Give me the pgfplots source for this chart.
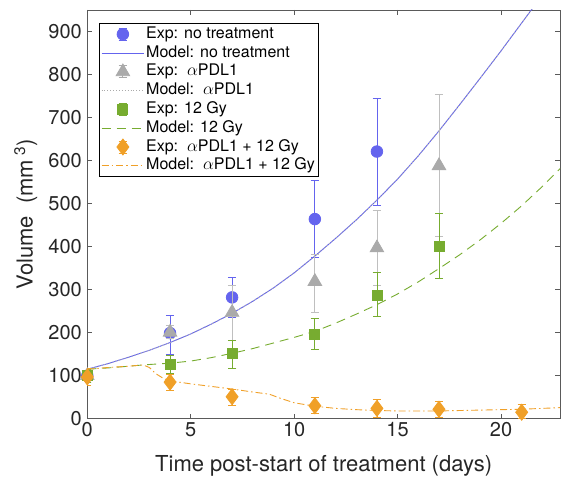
\documentclass[border=0pt]{standalone}
\usepackage{fontspec}
\setmainfont{TeX Gyre Heros}
\usepackage{pgfplots}
\pgfplotsset{compat=1.18}
\usepackage{pgfplotstable}
\definecolor{cblue}{RGB}{100,100,238}
\definecolor{cgray}{RGB}{170,170,170}
\definecolor{cgreen}{RGB}{119,172,48}
\definecolor{corange}{RGB}{240,160,40}
\definecolor{caxis}{RGB}{90,90,90}

\pgfplotstableread{
x y ep em
0 100 15 15
4 199 42 49
7 282 46 46
11 464 89 90
14 621 124 126
}\expblue
\pgfplotstableread{
x y ep em
0 100 15 15
4 201 15 15
7 247 62 64
11 319 64 71
14 397 88 88
17 588 165 165
}\expgray
\pgfplotstableread{
x y ep em
0 100 15 15
4 127 21 22
7 151 30 35
11 195 37 35
14 287 54 50
17 401 77 76
}\expgreen
\pgfplotstableread{
x y ep em
0 97 20 20
4 85 17 20
7 51 18 21
11 30 20 18
14 24 20 20
17 22 19 20
21 15 19 15
}\exporange
\pgfplotstableread{
x y
0 115
1 128
2 143
3 159
4 177
5 197
6 220
7 245
8 273
9 304
10 339
11 378
12 419
13 462
14 508
15 557
16 611
17 669
18 730
19 792
20 855
21 920
22 985
23 1050
}\modblue
\pgfplotstableread{
x y
0 115
1 118
2 122
2.7 125
3 126
4 129
5 134
6 142
7 152
8 163
9 176
10 189
11 203
12 222
13 243
14 265
15 290
16 318
17 349
18 381
19 416
20 454
21 495
22 540
23 588
}\modgreen
\pgfplotstableread{
x y
0 115
1 119
2 122
2.7 125
3.0 119
3.3 105
3.7 93
4 88
5 81
6 75
7 69
8 62
8.8 57
9.3 48
10 37
11 29
12 24
13 21
14 19
15 18
16 18
17 18
18 19
19 20
20 21
21 22
22 24
23 26
}\modorange

\pgfplotsset{
  errleg/.style={legend image code/.code={
    \draw[##1,mark=none,solid,line width=0.8pt] (0.75cm,-6pt) -- (0.75cm,6pt);
    \draw[##1,mark=none,solid,line width=0.8pt] (0.6cm,6pt) -- (0.9cm,6pt);
    \draw[##1,mark=none,solid,line width=0.8pt] (0.6cm,-6pt) -- (0.9cm,-6pt);
    \draw[##1] plot[only marks] coordinates {(0.75cm,0cm)};
  }},
  lineleg/.style={legend image code/.code={
    \draw[##1] (0cm,0cm) -- (1.5cm,0cm);
  }},
}

\begin{document}
\begin{tikzpicture}
\begin{axis}[
  scale only axis,
  width=472.7pt, height=408.7pt,
  xmin=0, xmax=22.85, ymin=0, ymax=950,
  xtick={0,5,10,15,20},
  ytick={0,100,...,900},
  tick align=inside,
  major tick length=5pt,
  axis line style={caxis, line width=0.7pt},
  tick style={caxis, line width=0.7pt},
  tick label style={font=\fontsize{20}{24}\selectfont, text=black!85},
  yticklabel style={xshift=-2pt},
  /pgf/number format/assume math mode=true,
  xlabel={Time post-start of treatment (days)},
  ylabel={Volume~~(mm\textsuperscript{~3})},
  label style={font=\fontsize{22}{26}\selectfont, text=black!85},
  xlabel style={at={(axis description cs:0.5,0)}, anchor=center, yshift=-47pt},
  ylabel style={at={(axis description cs:-0.13,0.5)}, anchor=center},
  legend style={at={(0,1)}, anchor=north west, xshift=12pt, yshift=-13pt,
    font=\fontsize{16}{18}\selectfont, draw=black, line width=0.6pt,
    row sep=0pt, inner sep=1.5pt,
    nodes={inner sep=1.5pt, text height=12pt, text depth=3.8pt},
    cells={anchor=west}},
  legend cell align=left,
  clip mode=individual,
]
% no treatment
\addplot[errleg, cblue, only marks, mark=*, mark size=5.8pt, line width=0.8pt,
  error bars/.cd, y dir=both, y explicit,
  error bar style={cblue, line width=0.8pt},
  error mark options={rotate=90, mark size=4.2pt, line width=0.8pt, cblue}]
  table[x=x, y=y, y error plus=ep, y error minus=em] {\expblue};
\addlegendentry{Exp: no treatment}
\addplot[lineleg, cblue, line width=0.9pt, no marks] table[x=x,y=y] {\modblue};
\addlegendentry{Model: no treatment}
% aPDL1
\addplot[errleg, cgray, only marks, mark=triangle*, mark size=7.8pt, line width=0.8pt,
  error bars/.cd, y dir=both, y explicit,
  error bar style={cgray!75, line width=0.8pt},
  error mark options={rotate=90, mark size=4.2pt, line width=0.8pt, cgray!75}]
  table[x=x, y=y, y error plus=ep, y error minus=em] {\expgray};
\addlegendentry{Exp:~~$\alpha$PDL1}
\addplot[lineleg, cgray, line width=0.9pt, dotted, no marks] table[x=x,y=y] {\modblue};
\addlegendentry{Model:~~$\alpha$PDL1}
% 12 Gy
\addplot[errleg, cgreen, only marks, mark=square*, mark size=5pt, line width=0.8pt,
  error bars/.cd, y dir=both, y explicit,
  error bar style={cgreen, line width=0.8pt},
  error mark options={rotate=90, mark size=4.2pt, line width=0.8pt, cgreen}]
  table[x=x, y=y, y error plus=ep, y error minus=em] {\expgreen};
\addlegendentry{Exp: 12 Gy}
\addplot[lineleg, cgreen, line width=0.9pt, dash pattern=on 9pt off 6pt, no marks] table[x=x,y=y] {\modgreen};
\addlegendentry{Model: 12 Gy}
% combo
\addplot[errleg, corange, only marks, mark=diamond*, mark size=8pt, line width=0.8pt,
  error bars/.cd, y dir=both, y explicit,
  error bar style={corange, line width=0.8pt},
  error mark options={rotate=90, mark size=4.2pt, line width=0.8pt, corange}]
  table[x=x, y=y, y error plus=ep, y error minus=em] {\exporange};
\addlegendentry{Exp:~~$\alpha$PDL1 + 12 Gy}
\addplot[lineleg, corange, line width=0.9pt, dash pattern=on 7pt off 3pt on 1.5pt off 3pt, no marks] table[x=x,y=y] {\modorange};
\addlegendentry{Model:~~$\alpha$PDL1 + 12 Gy}
\end{axis}
\pgfresetboundingbox
\path[use as bounding box] ([shift={(-87.3pt,-61.3pt)}]current axis.south west) rectangle ([shift={(1pt,10pt)}]current axis.north east);
\end{tikzpicture}
\end{document}
